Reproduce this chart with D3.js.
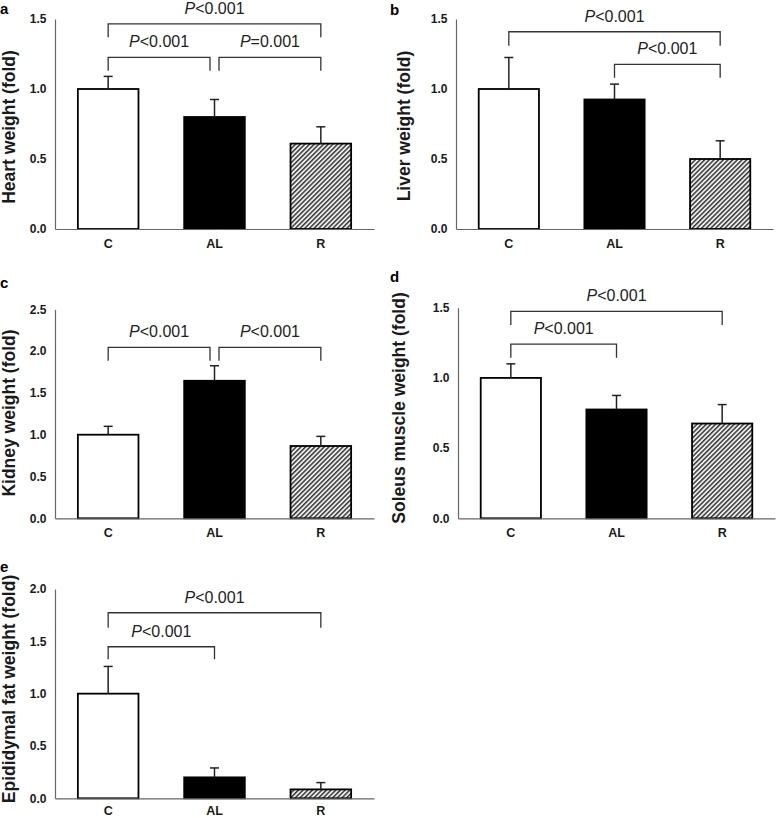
<!DOCTYPE html>
<html>
<head>
<meta charset="utf-8">
<script src="https://cdn.jsdelivr.net/npm/d3@7"></script>
<style>
  html, body { margin: 0; padding: 0; background: #fff; }
  svg { display: block; font-family: "Liberation Sans", Arial, sans-serif; }
</style>
</head>
<body>
<svg id="chart" width="777" height="818"></svg>
<script>
// ---------------- data ----------------
const categories = ["C", "AL", "R"];

const heartMean  = [1.00, 0.80, 0.61];
const heartErr   = [0.09, 0.125, 0.12];
const liverMean  = [1.00, 0.925, 0.50];
const liverErr   = [0.225, 0.11, 0.13];
const kidneyMean = [1.00, 1.645, 0.865];
const kidneyErr  = [0.10, 0.18, 0.115];
const soleusMean = [1.00, 0.775, 0.675];
const soleusErr  = [0.10, 0.10, 0.135];
const fatMean    = [1.00, 0.20, 0.085];
const fatErr     = [0.26, 0.09, 0.065];

const ticks15 = [0.0, 0.5, 1.0, 1.5];
const ticks20 = [0.0, 0.5, 1.0, 1.5, 2.0];
const ticks25 = [0.0, 0.5, 1.0, 1.5, 2.0, 2.5];

// significance brackets: from/to = category index, top = bracket value, leg = leg-end value
const heartBrackets = [
  {from: 0, to: 2, top: 1.465, leg: 1.370, op: "<", p: "0.001"},
  {from: 0, to: 1, top: 1.226, leg: 1.131, op: "<", p: "0.001"},
  {from: 1, to: 2, top: 1.226, leg: 1.131, op: "=", p: "0.001"}
];
const liverBrackets = [
  {from: 0, to: 2, top: 1.409, leg: 1.309, op: "<", p: "0.001"},
  {from: 1, to: 2, top: 1.176, leg: 1.081, op: "<", p: "0.001"}
];
const kidneyBrackets = [
  {from: 0, to: 1, top: 2.045, leg: 1.885, op: "<", p: "0.001"},
  {from: 1, to: 2, top: 2.045, leg: 1.885, op: "<", p: "0.001"}
];
const soleusBrackets = [
  {from: 0, to: 2, top: 1.474, leg: 1.377, op: "<", p: "0.001"},
  {from: 0, to: 1, top: 1.241, leg: 1.144, op: "<", p: "0.001"}
];
const fatBrackets = [
  {from: 0, to: 2, top: 1.773, leg: 1.630, op: "<", p: "0.001"},
  {from: 0, to: 1, top: 1.448, leg: 1.328, op: "<", p: "0.001"}
];

// ---------------- layout ----------------
const panels = [
  {letter: "a", title: "Heart weight (fold)", mean: heartMean, err: heartErr, ticks: ticks15, brackets: heartBrackets,
   x0: 55, x1: 374, yTop: 19, yBot: 229, letterX: 0, letterY: 13.6, titleX: 9, titleY: 127, xPad: 10},
  {letter: "b", title: "Liver weight (fold)", mean: liverMean, err: liverErr, ticks: ticks15, brackets: liverBrackets,
   x0: 456, x1: 773, yTop: 19, yBot: 229, letterX: 390, letterY: 15, titleX: 403.5, titleY: 126, xPad: 10},
  {letter: "c", title: "Kidney weight (fold)", mean: kidneyMean, err: kidneyErr, ticks: ticks25, brackets: kidneyBrackets,
   x0: 55, x1: 374, yTop: 309.3, yBot: 518.3, letterX: 0, letterY: 288, titleX: 9, titleY: 413, xPad: 10},
  {letter: "d", title: "Soleus muscle weight (fold)", mean: soleusMean, err: soleusErr, ticks: ticks15, brackets: soleusBrackets,
   x0: 458, x1: 775, yTop: 307.7, yBot: 518.3, letterX: 390, letterY: 282, titleX: 399, titleY: 408, xPad: 10},
  {letter: "e", title: "Epididymal fat weight (fold)", mean: fatMean, err: fatErr, ticks: ticks20, brackets: fatBrackets,
   x0: 55, x1: 374, yTop: 589, yBot: 798.3, letterX: 0, letterY: 572, titleX: 9, titleY: 689, xPad: 7.5}
];

const fills = ["#ffffff", "#000000", "url(#hatch)"];

const svg = d3.select("#chart");

// hatch pattern
const defs = svg.append("defs");
const pat = defs.append("pattern")
  .attr("id", "hatch")
  .attr("patternUnits", "userSpaceOnUse")
  .attr("width", 3.3).attr("height", 10)
  .attr("patternTransform", "rotate(45)");
pat.append("rect").attr("width", 3.3).attr("height", 10).attr("fill", "#ececec");
pat.append("rect").attr("width", 1.5).attr("height", 10).attr("fill", "#3c3c3c");

panels.forEach(pn => {
  const g = svg.append("g");
  const x = d3.scaleBand().domain(categories).range([pn.x0, pn.x1]).paddingInner(0.43).paddingOuter(0.215);
  const y = d3.scaleLinear().domain([0, pn.ticks[pn.ticks.length - 1]]).range([pn.yBot, pn.yTop]);

  // bars
  g.selectAll("rect.bar").data(categories).join("rect")
    .attr("class", "bar")
    .attr("x", d => x(d))
    .attr("width", x.bandwidth())
    .attr("y", (d, i) => y(pn.mean[i]))
    .attr("height", (d, i) => y(0) - y(pn.mean[i]))
    .attr("fill", (d, i) => fills[i])
    .attr("stroke", "#000")
    .attr("stroke-width", 1.8);

  // error bars (upper only)
  const eg = g.selectAll("g.err").data(categories).join("g").attr("class", "err");
  eg.append("line")
    .attr("x1", d => x(d) + x.bandwidth() / 2).attr("x2", d => x(d) + x.bandwidth() / 2)
    .attr("y1", (d, i) => y(pn.mean[i])).attr("y2", (d, i) => y(pn.mean[i] + pn.err[i]))
    .attr("stroke", "#222").attr("stroke-width", 1.5);
  eg.append("line")
    .attr("x1", d => x(d) + x.bandwidth() / 2 - 4.5).attr("x2", d => x(d) + x.bandwidth() / 2 + 4.5)
    .attr("y1", (d, i) => y(pn.mean[i] + pn.err[i])).attr("y2", (d, i) => y(pn.mean[i] + pn.err[i]))
    .attr("stroke", "#222").attr("stroke-width", 1.5);

  // axes
  const yAxis = d3.axisLeft(y).tickValues(pn.ticks).tickFormat(d3.format(".1f")).tickSize(0).tickPadding(8.5);
  const ya = g.append("g").attr("transform", `translate(${pn.x0},0)`).call(yAxis);
  ya.select(".domain").attr("stroke", "#666").attr("stroke-width", 1.2);
  ya.selectAll("text").attr("font-size", 12).attr("font-weight", "bold").attr("fill", "#1a1a1a")
    .attr("font-family", "Liberation Sans, Arial, sans-serif");

  const xAxis = d3.axisBottom(x).tickSize(0).tickPadding(pn.xPad);
  const xa = g.append("g").attr("transform", `translate(0,${pn.yBot})`).call(xAxis);
  xa.select(".domain").attr("stroke", "#666").attr("stroke-width", 1.2);
  xa.selectAll("text").attr("font-size", 12.5).attr("font-weight", "bold").attr("fill", "#1a1a1a")
    .attr("font-family", "Liberation Sans, Arial, sans-serif");

  // significance brackets
  const cx = i => x(categories[i]) + x.bandwidth() / 2;
  pn.brackets.forEach(b => {
    let xl = cx(b.from), xr = cx(b.to);
    if (pn.brackets.some(o => o !== b && o.top === b.top && o.from === b.to)) xr -= 4.5;
    if (pn.brackets.some(o => o !== b && o.top === b.top && o.to === b.from)) xl += 4.5;
    const yt = y(b.top), yl = y(b.leg);
    g.append("path")
      .attr("d", `M${xl},${yl}V${yt}H${xr}V${yl}`)
      .attr("fill", "none").attr("stroke", "#333").attr("stroke-width", 1.3);
    const t = g.append("text")
      .attr("x", (xl + xr) / 2).attr("y", yt - 10)
      .attr("text-anchor", "middle")
      .attr("font-size", 16).attr("fill", "#222");
    t.append("tspan").attr("font-style", "italic").text("P");
    t.append("tspan").text(b.op + b.p);
  });

  // y-axis title
  g.append("text")
    .attr("transform", `translate(${pn.titleX},${pn.titleY}) rotate(-90)`)
    .attr("text-anchor", "middle")
    .attr("dominant-baseline", "central")
    .attr("font-size", 17.5).attr("font-weight", "bold").attr("fill", "#1a1a1a")
    .text(pn.title);

  // panel letter
  g.append("text")
    .attr("x", pn.letterX).attr("y", pn.letterY)
    .attr("font-size", 15).attr("font-weight", "bold").attr("fill", "#000")
    .text(pn.letter);
});
</script>
</body>
</html>
